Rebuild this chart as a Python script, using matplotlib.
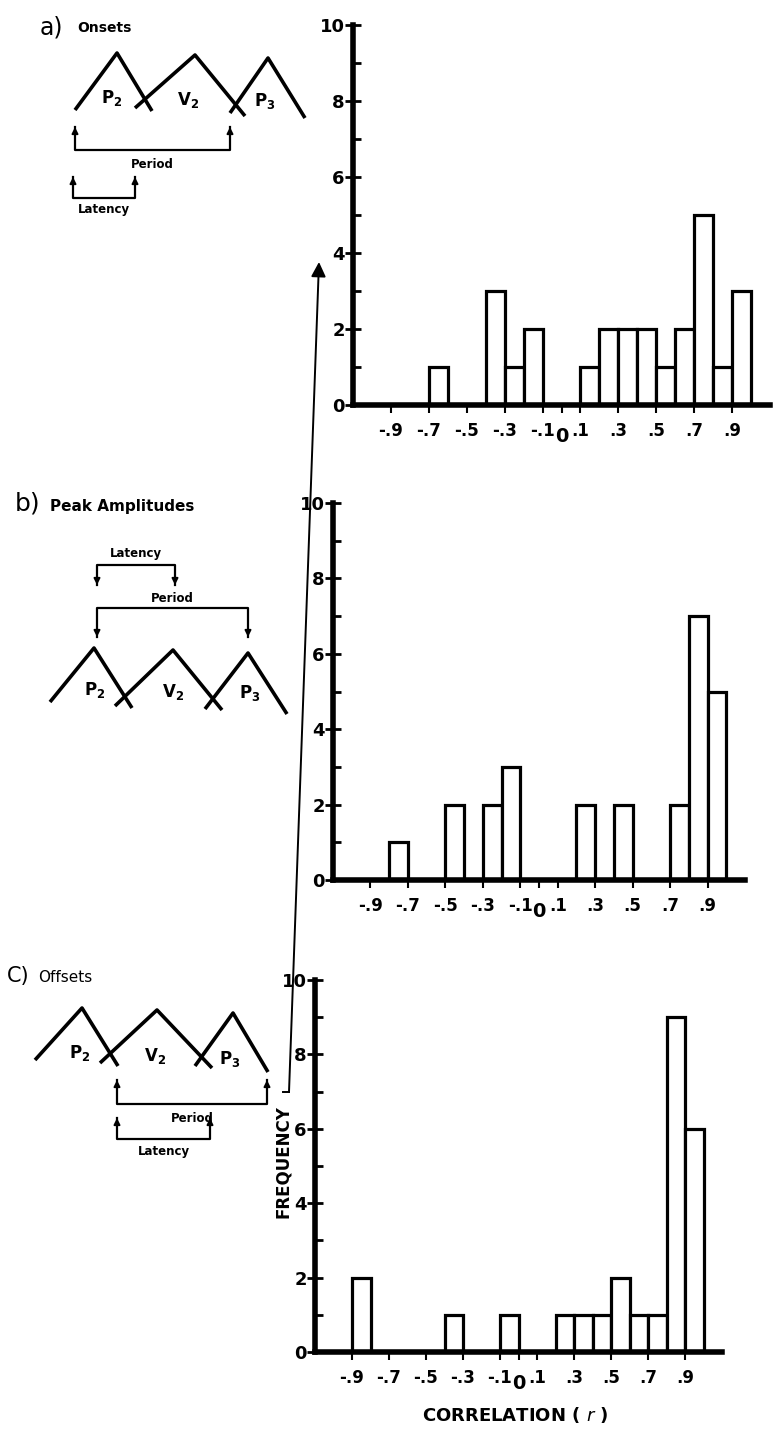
import matplotlib
matplotlib.use('Agg')
import matplotlib.pyplot as plt
import numpy as np

# correlation bins (left edges, width 0.1) and frequency counts per panel
bin_edges = np.round(np.arange(-1.0, 1.0, 0.1), 1)

onsets = {-0.7: 1, -0.4: 3, -0.3: 1, -0.2: 2, 0.1: 1, 0.2: 2, 0.3: 2, 0.4: 2,
          0.5: 1, 0.6: 2, 0.7: 5, 0.8: 1, 0.9: 3}
peaks = {-0.8: 1, -0.5: 2, -0.3: 2, -0.2: 3, 0.2: 2, 0.4: 2, 0.7: 2, 0.8: 7, 0.9: 5}
offsets = {-0.9: 2, -0.4: 1, -0.1: 1, 0.2: 1, 0.3: 1, 0.4: 1, 0.5: 2, 0.6: 1,
           0.7: 1, 0.8: 9, 0.9: 6}

x_ticks = [-0.9, -0.7, -0.5, -0.3, -0.1, 0, 0.1, 0.3, 0.5, 0.7, 0.9]
x_labels = ['-.9', '-.7', '-.5', '-.3', '-.1', '0', '.1', '.3', '.5', '.7', '.9']
y_ticks = [0, 2, 4, 6, 8, 10]

W, H = 776, 1435
FONT = 'DejaVu Sans'

fig = plt.figure(figsize=(W / 100, H / 100), dpi=100)


def px_axes(left, right, top, bottom):
    return fig.add_axes([left / W, 1 - bottom / H, (right - left) / W, (bottom - top) / H])


def draw_hist(ax, counts):
    heights = [counts.get(b, 0) for b in bin_edges]
    mask = np.array(heights) > 0
    ax.bar(bin_edges[mask], np.array(heights)[mask], width=0.1, align='edge',
           facecolor='white', edgecolor='black', linewidth=2.3, zorder=2)
    ax.set_xlim(-1.1, 1.1)
    ax.set_ylim(0, 10)
    for s in ['top', 'right']:
        ax.spines[s].set_visible(False)
    for s in ['left', 'bottom']:
        ax.spines[s].set_linewidth(4)
        ax.spines[s].set_zorder(3)
    ax.set_xticks(x_ticks)
    ax.set_xticklabels(x_labels, fontsize=12, fontweight='bold', family=FONT)
    ax.set_yticks(y_ticks)
    ax.set_yticklabels([str(v) for v in y_ticks], fontsize=13, fontweight='bold', family=FONT)
    ax.set_yticks(range(1, 10, 2), minor=True)
    ax.tick_params(axis='x', direction='out', length=6, width=1.5, pad=6)
    ax.tick_params(axis='y', which='major', direction='inout', length=12, width=2, pad=0)
    ax.tick_params(axis='y', which='minor', direction='in', length=6, width=2)
    # the "0" sits a bit lower than the other correlation labels
    ax.xaxis.get_major_ticks()[5].set_pad(10)
    ax.get_xticklabels()[5].set_fontsize(14)


ax_a = px_axes(353, 770, 25, 405)
draw_hist(ax_a, onsets)
ax_b = px_axes(333, 745, 503, 880)
draw_hist(ax_b, peaks)
ax_c = px_axes(315, 722, 980, 1352)
draw_hist(ax_c, offsets)

fig.text(515 / W, 1 - 1415 / H, r'CORRELATION ( $r$ )', fontsize=13, fontweight='bold',
         family=FONT, ha='center', va='center')

# overlay axes in pixel coordinates for the schematic drawings
ov = fig.add_axes([0, 0, 1, 1], facecolor='none')
ov.set_xlim(0, W)
ov.set_ylim(H, 0)
ov.axis('off')

lw = 2.6


def waves(pts_list, labels):
    for pts in pts_list:
        xs, ys = zip(*pts)
        ov.plot(xs, ys, color='black', lw=lw, solid_capstyle='butt')
    for (x, y, main, sub) in labels:
        ov.text(x, y, r'$\mathbf{%s}_{\mathbf{%s}}$' % (main, sub), fontsize=12,
                ha='center', va='center')


def bracket(x1, x2, y_line, y_tip, text, ty, up=True):
    ov.plot([x1, x1, x2, x2], [y_tip, y_line, y_line, y_tip], color='black', lw=1.6)
    for xx in (x1, x2):
        ov.annotate('', xy=(xx, y_tip), xytext=(xx, y_tip + (8 if up else -8)),
                    arrowprops=dict(arrowstyle='-|>', color='black', lw=1.4,
                                    mutation_scale=9, shrinkA=0, shrinkB=0))
    ov.text((x1 + x2) / 2, ty, text, fontsize=8.5, fontweight='bold', family=FONT,
            ha='center', va='center')


# a) Onsets
fig.text(40 / W, 1 - 27 / H, 'a)', fontsize=17, family=FONT, va='center')
fig.text(77 / W, 1 - 28 / H, 'Onsets', fontsize=10, fontweight='bold', family=FONT, va='center')
waves([[(75, 110), (117, 53), (152, 111)],
       [(135, 108), (195, 55), (245, 116)],
       [(230, 113), (268, 58), (305, 118)]],
      [(112, 98, 'P', '2'), (188, 100, 'V', '2'), (265, 101, 'P', '3')])
bracket(75, 230, 150, 127, 'Period', 164)
bracket(73, 135, 198, 177, 'Latency', 210)

# b) Peak Amplitudes
fig.text(15 / W, 1 - 503 / H, 'b)', fontsize=18, family=FONT, va='center')
fig.text(50 / W, 1 - 506 / H, 'Peak Amplitudes', fontsize=11, fontweight='bold', family=FONT,
         va='center')
waves([[(50, 702), (94, 648), (132, 708)],
       [(115, 706), (173, 650), (222, 710)],
       [(205, 709), (248, 653), (287, 714)]],
      [(95, 690, 'P', '2'), (173, 692, 'V', '2'), (250, 693, 'P', '3')])
bracket(97, 175, 565, 585, 'Latency', 554, up=False)
bracket(97, 248, 608, 637, 'Period', 599, up=False)

# c) Offsets
fig.text(7 / W, 1 - 976 / H, 'C)', fontsize=15, family=FONT, va='center')
fig.text(38 / W, 1 - 978 / H, 'Offsets', fontsize=11, family=FONT, va='center')
waves([[(35, 1060), (82, 1008), (118, 1066)],
       [(100, 1063), (157, 1010), (212, 1068)],
       [(195, 1066), (233, 1013), (268, 1072)]],
      [(80, 1053, 'P', '2'), (155, 1056, 'V', '2'), (230, 1059, 'P', '3')])
bracket(117, 267, 1104, 1080, 'Period', 1118)
bracket(117, 210, 1139, 1118, 'Latency', 1152)

# FREQUENCY label with the long arrow
ov.text(283, 1162, 'FREQUENCY', rotation=90, fontsize=12, fontweight='bold', family=FONT,
        ha='center', va='center')
ov.plot([283, 289], [1092, 1092], color='black', lw=1.4)
ov.annotate('', xy=(319, 262), xytext=(289, 1092),
            arrowprops=dict(arrowstyle='-|>', color='black', lw=1.4,
                            mutation_scale=22, shrinkA=0, shrinkB=0))

fig.savefig('out.png', dpi=100)
